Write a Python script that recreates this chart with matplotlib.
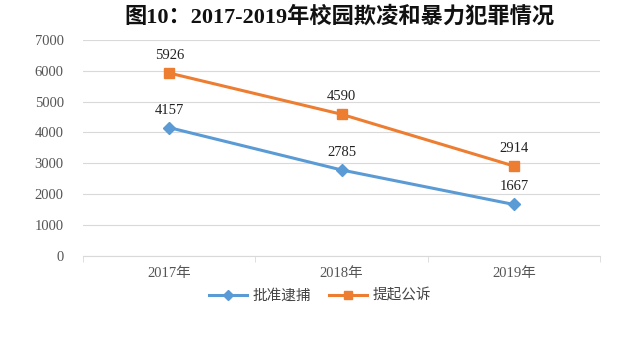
import matplotlib
matplotlib.use("Agg")
import matplotlib.pyplot as plt
import numpy as np

plt.rcParams['font.family'] = ['Liberation Serif', 'Noto Sans CJK SC', 'DejaVu Sans']

years = ["2017年", "2018年", "2019年"]
arrests = [4157, 2785, 1667]
prosecutions = [5926, 4590, 2914]
yticks = [0, 1000, 2000, 3000, 4000, 5000, 6000, 7000]

blue = "#5B9BD5"
orange = "#ED7D31"

fig = plt.figure(figsize=(6.4, 3.63), dpi=100)
ax = fig.add_axes([0.13, 0.295, 0.8075, 0.595])

x = np.arange(len(years))
ax.plot(x, arrests, color=blue, lw=2.2, marker="D", ms=6, label="批准逮捕")
ax.plot(x, prosecutions, color=orange, lw=2.2, marker="s", ms=7, label="提起公诉")

for xi, v in zip(x, arrests):
    ax.annotate(str(v), (xi, v), xytext=(0, 8), textcoords="offset points",
                ha="center", va="bottom", fontsize=10.5, color="#222222")
for xi, v in zip(x, prosecutions):
    ax.annotate(str(v), (xi, v), xytext=(0, 8), textcoords="offset points",
                ha="center", va="bottom", fontsize=10.5, color="#222222")

ax.set_xlim(-0.5, 2.5)
ax.set_ylim(0, 7000)
ax.set_yticks(yticks)
ax.set_yticklabels([str(t) for t in yticks], fontsize=10.5, color="#555555")
ax.set_xticks(x)
ax.set_xticklabels(years, fontsize=10.5, color="#555555")
ax.tick_params(axis="y", length=0, pad=14)
ax.tick_params(axis="x", length=0, pad=8)
ax.set_xticks([-0.5, 0.5, 1.5, 2.5], minor=True)
ax.tick_params(axis="x", which="minor", length=4, color="#d9d9d9")
ax.grid(axis="y", color="#d9d9d9", lw=0.8)
ax.set_axisbelow(True)
for s in ["top", "right", "left"]:
    ax.spines[s].set_visible(False)
ax.spines["bottom"].set_color("#d9d9d9")

fig.text(0.53, 0.955, "图10：2017-2019年校园欺凌和暴力犯罪情况", ha="center", va="center",
         fontsize=16, fontweight="bold", color="#111111")

fig.legend(loc="center", bbox_to_anchor=(0.5, 0.185), ncol=2, frameon=False,
           fontsize=10.5, handlelength=2.6, columnspacing=1.2, handletextpad=0.4,
           markerscale=0.85, labelcolor="#444444")

fig.savefig("out.png", dpi=100)
